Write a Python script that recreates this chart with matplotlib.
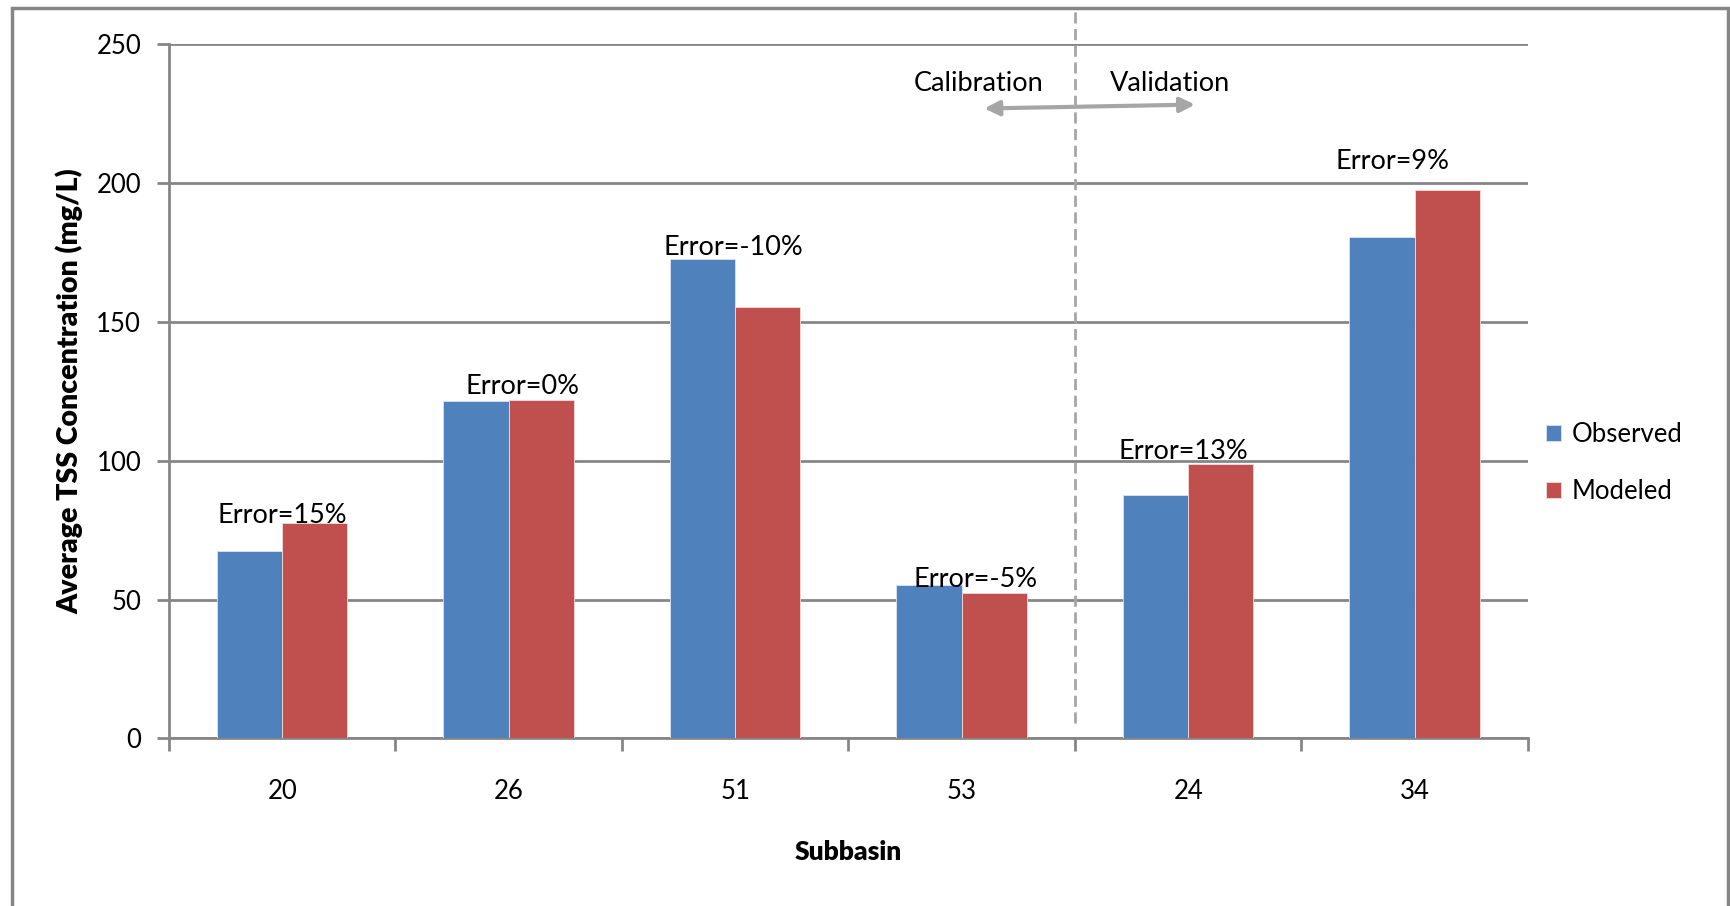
import matplotlib
matplotlib.use("Agg")
import matplotlib.pyplot as plt
from matplotlib.patches import Rectangle
import numpy as np

plt.rcParams["font.family"] = ["Lato", "DejaVu Sans"]

# TSS concentrations per subbasin (mg/L)
subbasins = ["20", "26", "51", "53", "24", "34"]
observed = [67.5, 121.5, 172.5, 55.2, 87.5, 180.5]
modeled = [77.5, 122.0, 155.3, 52.4, 98.8, 197.5]
error_labels = ["Error=15%", "Error=0%", "Error=-10%", "Error=-5%", "Error=13%", "Error=9%"]
# label anchor positions (x offset from group centre, y in mg/L)
error_dx = [0.0, 0.06, -0.01, 0.06, -0.02, -0.1]
error_y = [80.2, 126.6, 176.6, 57.4, 103.2, 207.6]

blue = "#4F81BD"
red = "#C0504D"
grid_gray = "#868686"
light_gray = "#A6A6A6"

fig = plt.figure(figsize=(17.31, 9.06), dpi=100)
ax = fig.add_axes([0.0976, 0.1849, 0.7851, 0.7665])

x = np.arange(len(subbasins))
w = 0.288
ax.bar(x - w / 2, observed, w, color=blue, edgecolor="#dbe5f1", linewidth=0.6,
       label="Observed", zorder=3)
ax.bar(x + w / 2, modeled, w, color=red, edgecolor="#f2dcdb", linewidth=0.6,
       label="Modeled", zorder=3)

for i, txt in enumerate(error_labels):
    ax.text(x[i] + error_dx[i], error_y[i], txt, ha="center", va="center",
            fontsize=19.5, zorder=5)

ax.set_xlim(-0.5, len(subbasins) - 0.5)
ax.set_ylim(0, 250)
ax.set_yticks(np.arange(0, 251, 50))
ax.yaxis.grid(True, color=grid_gray, linewidth=2)
ax.set_axisbelow(True)

for side in ["top", "right"]:
    ax.spines[side].set_visible(False)
ax.spines["left"].set_color(grid_gray)
ax.spines["left"].set_linewidth(2)
ax.spines["bottom"].set_color(grid_gray)
ax.spines["bottom"].set_linewidth(2)

# category labels centred, tick marks on the group boundaries
ax.set_xticks(x)
ax.set_xticklabels(subbasins)
ax.set_xticks(np.arange(-0.5, len(subbasins)), minor=True)
ax.tick_params(axis="x", which="major", length=0, pad=29, labelsize=18.5)
ax.tick_params(axis="x", which="minor", length=9, width=2, color=grid_gray)
ax.tick_params(axis="y", length=9, width=2, color=grid_gray, pad=11, labelsize=18.5)

ax.set_ylabel("Average TSS Concentration (mg/L)", fontsize=20.5, fontweight="heavy",
              labelpad=9)
ax.set_xlabel("Subbasin", fontsize=19, fontweight="heavy", labelpad=26)

# calibration / validation split
ax.axvline(3.5, ymin=0.022, ymax=1.05, color=light_gray, linewidth=2,
           linestyle=(0, (4, 2)), clip_on=False, zorder=4)
ax.annotate("", xy=(3.1, 226.8), xytext=(4.03, 228.2),
            arrowprops=dict(arrowstyle="<|-|>", color=light_gray, lw=3,
                            mutation_scale=22, shrinkA=0, shrinkB=0))
ax.text(3.076, 235.8, "Calibration", ha="center", va="center", fontsize=19.5)
ax.text(3.92, 235.8, "Validation", ha="center", va="center", fontsize=19.5)

ax.legend(loc="center left", bbox_to_anchor=(0.996, 0.397), frameon=False,
          fontsize=18.5, handlelength=0.6, handleheight=0.6, handletextpad=0.4,
          labelspacing=1.25)

# outer chart frame
fig.patches.append(Rectangle((12 / 1731, -0.01), (1728 - 12) / 1731, 1 - 8 / 906 + 0.01,
                             transform=fig.transFigure, fill=False,
                             edgecolor=grid_gray, linewidth=2.5))

fig.savefig("out.png", dpi=100, facecolor="white")
